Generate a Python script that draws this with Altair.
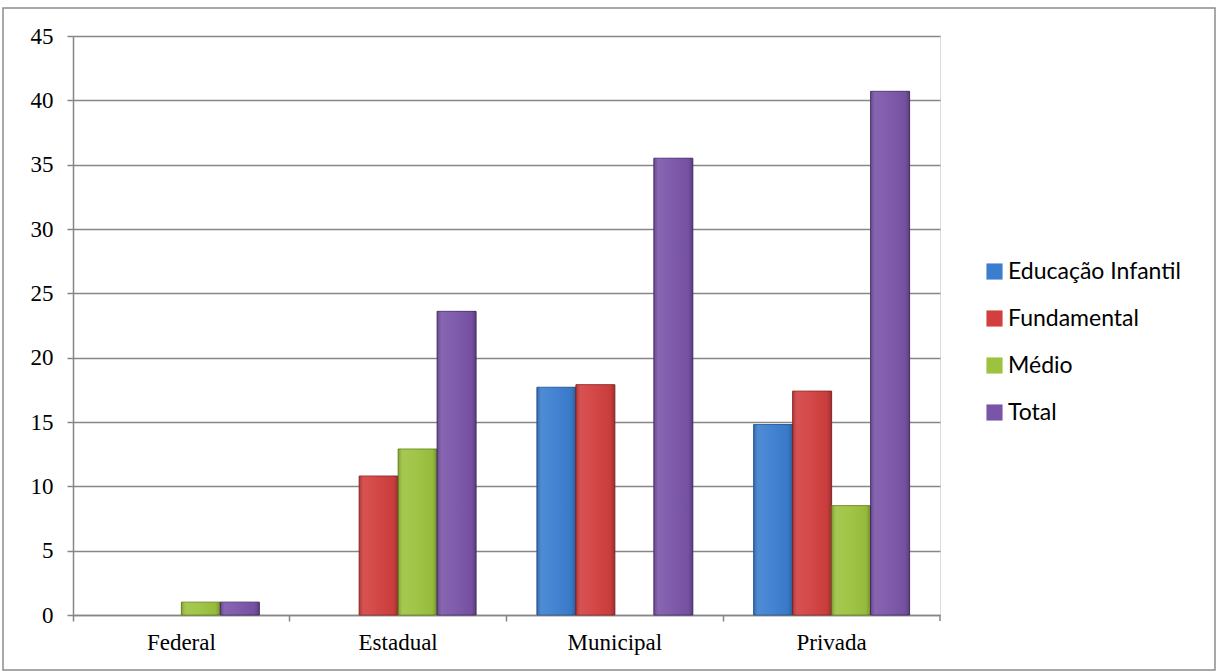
import altair as alt
import pandas as pd

# Values per school network and education level
redes = ["Federal", "Estadual", "Municipal", "Privada"]
niveis = ["Educação Infantil", "Fundamental", "Médio", "Total"]

educacao_infantil = [None, None, 17.7, 14.8]
fundamental = [None, 10.8, 17.9, 17.4]
medio = [1.0, 12.9, None, 8.5]
total = [1.0, 23.6, 35.5, 40.7]

cores = ["#3b7ecf", "#d23f3f", "#9cc23e", "#7a54a8"]
bordas = ["#2a5c9a", "#9a2d2d", "#6f8f28", "#4f3573"]

rows = []
for nivel, serie in zip(niveis, [educacao_infantil, fundamental, medio, total]):
    for rede, v in zip(redes, serie):
        if v is not None:
            rows.append({"Rede": rede, "Nível": nivel, "Valor": v})
df = pd.DataFrame(rows)

serif = "Liberation Serif"
sans = "Lato"
grey = "#868686"

x_enc = alt.X("Rede:N", sort=redes, title=None,
              scale=alt.Scale(paddingInner=0, paddingOuter=0),
              axis=alt.Axis(labelAngle=0, labelFont=serif, labelFontSize=23,
                            labelColor="#000", labelPadding=10, tickSize=6,
                            bandPosition=0, tickColor=grey, domainColor=grey,
                            domainWidth=1.5, tickWidth=1.5, grid=False))
xoff_enc = alt.XOffset("Nível:N", sort=niveis,
                       scale=alt.Scale(domain=niveis, paddingInner=0,
                                       paddingOuter=0.78))
y_enc = alt.Y("Valor:Q", title=None,
              scale=alt.Scale(domain=[0, 45], nice=False),
              axis=alt.Axis(values=list(range(0, 46, 5)), labelFont=serif,
                            labelFontSize=23, labelColor="#000", labelPadding=14,
                            tickSize=6, tickColor=grey, domainColor=grey,
                            domainWidth=1.5, tickWidth=1.5, gridColor=grey,
                            gridWidth=1.5))

bars = alt.Chart(df).mark_bar(strokeWidth=1).encode(
    x=x_enc,
    xOffset=xoff_enc,
    y=y_enc,
    color=alt.Color("Nível:N", sort=niveis,
                    scale=alt.Scale(domain=niveis, range=cores),
                    legend=alt.Legend(title=None, orient="none", legendX=910,
                                      legendY=224, symbolType="square",
                                      symbolSize=260, symbolStrokeWidth=0,
                                      labelFont=sans, labelFontSize=23,
                                      labelColor="#000", rowPadding=23,
                                      labelOffset=2, labelLimit=400)),
    stroke=alt.Stroke("Nível:N", sort=niveis,
                      scale=alt.Scale(domain=niveis, range=bordas), legend=None),
)

# Soft bevel shading laid over each bar
shade = alt.Chart(df).mark_bar(
    strokeWidth=0,
    fill=alt.Gradient(
        gradient="linear", x1=0, x2=1, y1=0, y2=0,
        stops=[
            alt.GradientStop(offset=0, color="rgba(0,0,0,0.18)"),
            alt.GradientStop(offset=0.12, color="rgba(255,255,255,0.10)"),
            alt.GradientStop(offset=0.5, color="rgba(255,255,255,0.04)"),
            alt.GradientStop(offset=0.88, color="rgba(0,0,0,0.04)"),
            alt.GradientStop(offset=1, color="rgba(0,0,0,0.25)"),
        ],
    ),
).encode(x=x_enc, xOffset=xoff_enc, y=y_enc)

# Frame around the whole figure
frame = alt.Chart(pd.DataFrame({"k": [0]})).mark_rect(
    fill=None, stroke="#8c8c8c", strokeWidth=1.5
).encode(
    x=alt.value(-70), x2=alt.value(1142),
    y=alt.value(-28), y2=alt.value(634),
)

# Closing tick at the right end of the category axis
end_tick = alt.Chart(pd.DataFrame({"k": [0]})).mark_rule(
    color=grey, strokeWidth=1.5
).encode(x=alt.value(867), y=alt.value(579), y2=alt.value(585))

chart = alt.layer(frame, bars, shade, end_tick).properties(
    width=867, height=579,
    autosize=alt.AutoSizeParams(type="none"),
    padding={"left": 73, "top": 36, "right": 279, "bottom": 57},
).configure_view(stroke=None).configure(background="white")

chart.save("out.html", embed_options={"renderer": "svg", "actions": False})
